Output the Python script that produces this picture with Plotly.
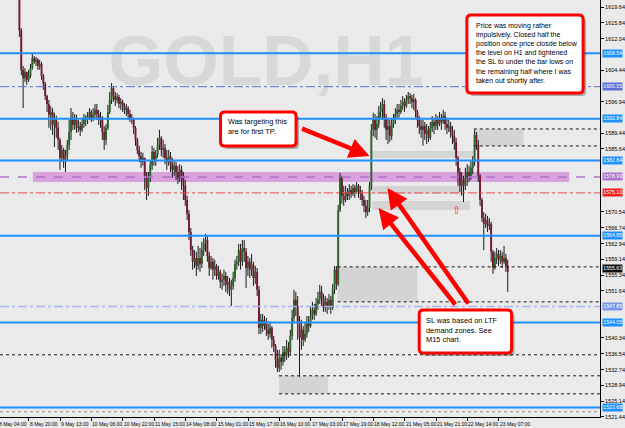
import plotly.graph_objects as go

# ---------------- data (GOLD H1, prices) ----------------
first_open = 1627.5
closes = [
    1628.4, 1630.1, 1627.6, 1629.3, 1631.8, 1630.5, 1628.9, 1631.2, 1629.7, 1626.8,
    1614.1, 1604.6, 1602.6, 1604.1, 1602.2, 1603.1, 1605.0, 1607.4, 1606.5, 1607.0,
    1605.5, 1606.0, 1603.1, 1601.2, 1598.3, 1596.4, 1593.8, 1594.5, 1591.4, 1592.6,
    1590.7, 1587.8, 1583.5, 1585.4, 1583.0, 1584.2, 1586.6, 1589.7, 1593.1, 1591.4,
    1592.6, 1590.7, 1591.1, 1590.2, 1591.6, 1593.1, 1592.6, 1593.5, 1594.5, 1593.1,
    1593.8, 1595.0, 1594.0, 1592.6, 1593.1, 1589.7, 1587.8, 1590.7, 1594.5, 1597.4,
    1600.2, 1598.3, 1597.4, 1598.1, 1596.4, 1596.9, 1595.9, 1595.0, 1595.4, 1594.0,
    1593.1, 1592.6, 1590.7, 1587.8, 1585.4, 1583.9, 1582.5, 1583.5, 1579.2, 1576.3,
    1578.7, 1581.8, 1584.9, 1583.0, 1584.2, 1586.6, 1588.3, 1585.4, 1585.9, 1583.5,
    1582.5, 1583.9, 1582.0, 1580.6, 1581.6, 1580.1, 1578.7, 1580.6, 1579.2, 1576.8,
    1573.4, 1570.1, 1565.7, 1561.4, 1558.6, 1559.5, 1557.6, 1559.5, 1558.1, 1561.4,
    1562.9, 1563.8, 1560.0, 1557.1, 1558.6, 1556.7, 1557.6, 1555.2, 1556.2, 1553.8,
    1554.3, 1555.2, 1553.1, 1553.8, 1551.9, 1552.8, 1554.7, 1558.1, 1558.6, 1561.4,
    1558.6, 1561.9, 1561.0, 1557.1, 1558.6, 1556.7, 1557.9, 1554.7, 1556.2, 1551.9,
    1542.8, 1544.7, 1543.2, 1544.2, 1542.3, 1541.3, 1542.8, 1539.9, 1538.4, 1535.1,
    1533.2, 1535.6, 1534.6, 1537.0, 1536.1, 1538.0, 1537.0, 1540.8, 1545.2, 1549.5,
    1548.0, 1544.2, 1540.4, 1542.3, 1539.9, 1541.3, 1544.2, 1543.2, 1545.6, 1547.1,
    1546.1, 1548.5, 1549.5, 1551.4, 1549.9, 1547.6, 1549.0, 1548.0, 1549.5, 1547.6,
    1551.9, 1556.7, 1553.3, 1571.0, 1578.7, 1574.4, 1573.4, 1575.3, 1574.4, 1575.8,
    1574.9, 1576.3, 1575.3, 1576.8, 1575.8, 1574.9, 1573.4, 1572.0, 1570.5, 1571.5,
    1576.8, 1590.2, 1592.6, 1590.2, 1591.6, 1594.5, 1595.4, 1596.4, 1593.1, 1590.2,
    1591.1, 1588.7, 1591.6, 1592.6, 1594.0, 1595.0, 1594.5, 1595.9, 1596.9, 1595.9,
    1597.4, 1598.3, 1597.8, 1596.9, 1597.4, 1594.5, 1592.6, 1591.1, 1590.2, 1591.1,
    1589.2, 1590.2, 1588.3, 1590.7, 1592.1, 1591.1, 1592.6, 1591.6, 1593.1, 1592.1,
    1593.5, 1591.6, 1590.7, 1591.1, 1589.7, 1588.7, 1587.3, 1583.5, 1580.1, 1576.8,
    1578.2, 1576.8, 1578.7, 1580.1, 1579.2, 1581.1, 1582.5, 1589.0, 1586.6, 1579.2,
    1573.4, 1569.1, 1567.7, 1568.6, 1567.2, 1567.7, 1561.0, 1557.1, 1559.5, 1560.5,
    1559.1, 1560.0, 1558.6, 1559.5, 1557.6, 1556.2,
]
highs = [
    1629.6, 1631.0, 1630.6, 1630.2, 1632.7, 1632.4, 1631.1, 1632.0, 1631.6, 1630.2,
    1627.5, 1614.6, 1605.5, 1605.0, 1604.1, 1604.6, 1606.0, 1608.4, 1607.9, 1607.7,
    1607.4, 1607.0, 1606.5, 1603.6, 1601.7, 1598.6, 1597.4, 1595.9, 1595.4, 1594.3,
    1593.6, 1592.1, 1588.3, 1586.6, 1585.9, 1585.4, 1587.8, 1592.6, 1595.4, 1594.5,
    1594.0, 1593.8, 1592.6, 1592.1, 1593.1, 1594.0, 1593.8, 1594.5, 1595.4, 1595.0,
    1595.4, 1596.4, 1596.4, 1595.0, 1594.5, 1593.5, 1591.1, 1591.6, 1596.2, 1599.3,
    1601.4, 1600.7, 1599.3, 1599.0, 1598.6, 1597.8, 1597.4, 1596.6, 1596.4, 1595.9,
    1595.0, 1594.0, 1593.1, 1591.1, 1588.3, 1586.4, 1584.9, 1584.7, 1583.0, 1580.1,
    1580.1, 1583.0, 1586.4, 1585.9, 1585.4, 1588.3, 1590.2, 1588.7, 1587.8, 1586.8,
    1585.4, 1585.4, 1584.9, 1583.5, 1583.0, 1582.5, 1581.6, 1582.0, 1581.6, 1580.1,
    1578.2, 1574.4, 1571.0, 1566.7, 1562.4, 1561.4, 1561.0, 1562.4, 1561.9, 1563.4,
    1564.3, 1565.3, 1564.8, 1561.0, 1560.0, 1559.5, 1559.1, 1558.1, 1557.6, 1556.7,
    1555.7, 1556.7, 1556.2, 1555.2, 1554.7, 1554.3, 1556.2, 1559.1, 1560.0, 1562.9,
    1562.9, 1563.8, 1563.8, 1561.9, 1560.0, 1559.5, 1560.5, 1558.6, 1557.6, 1557.1,
    1552.8, 1546.1, 1546.1, 1545.6, 1545.2, 1543.7, 1544.2, 1543.2, 1540.8, 1538.9,
    1537.5, 1537.5, 1536.5, 1538.4, 1538.4, 1539.9, 1539.4, 1542.3, 1547.1, 1551.9,
    1551.4, 1550.4, 1545.6, 1544.7, 1543.2, 1544.2, 1545.6, 1545.6, 1548.0, 1549.0,
    1548.5, 1549.9, 1551.4, 1553.1, 1552.8, 1550.9, 1550.4, 1549.9, 1550.9, 1550.4,
    1553.3, 1557.6, 1557.6, 1572.2, 1579.9, 1579.2, 1576.8, 1576.8, 1576.3, 1577.2,
    1576.8, 1577.2, 1577.0, 1577.7, 1577.2, 1576.8, 1575.8, 1574.4, 1573.4, 1573.4,
    1577.7, 1591.6, 1594.3, 1594.0, 1593.5, 1595.9, 1596.9, 1597.8, 1597.4, 1594.0,
    1593.1, 1592.6, 1593.1, 1594.0, 1595.4, 1596.4, 1596.4, 1597.4, 1598.3, 1597.8,
    1598.6, 1599.3, 1599.0, 1598.6, 1598.8, 1597.8, 1595.0, 1593.5, 1592.6, 1592.6,
    1592.1, 1591.6, 1591.1, 1592.1, 1593.5, 1593.1, 1594.0, 1593.5, 1594.5, 1594.0,
    1595.0, 1594.5, 1593.1, 1592.6, 1592.1, 1591.1, 1590.2, 1588.3, 1583.9, 1581.1,
    1580.1, 1579.2, 1581.1, 1582.0, 1581.6, 1583.0, 1583.9, 1590.2, 1589.7, 1587.8,
    1579.6, 1573.9, 1570.5, 1570.1, 1569.6, 1569.1, 1568.2, 1561.4, 1561.0, 1561.9,
    1561.4, 1561.4, 1561.0, 1562.4, 1560.5, 1559.1,
]
lows = [
    1626.9, 1628.0, 1626.8, 1626.9, 1628.8, 1629.6, 1628.0, 1628.4, 1628.8, 1625.6,
    1612.5, 1603.3, 1595.4, 1601.7, 1601.0, 1601.7, 1602.6, 1604.6, 1606.0, 1605.5,
    1604.6, 1604.6, 1602.2, 1599.8, 1597.4, 1594.5, 1590.7, 1590.2, 1589.0, 1586.1,
    1588.3, 1585.4, 1580.6, 1582.5, 1581.1, 1580.1, 1583.0, 1585.4, 1587.8, 1590.2,
    1590.2, 1589.5, 1589.7, 1588.7, 1589.7, 1590.7, 1591.1, 1591.6, 1592.6, 1592.1,
    1592.3, 1593.1, 1592.6, 1591.4, 1590.7, 1587.8, 1585.4, 1586.6, 1590.2, 1594.0,
    1596.4, 1596.9, 1595.9, 1596.6, 1595.4, 1595.0, 1594.5, 1594.0, 1593.5, 1592.6,
    1592.1, 1591.6, 1589.2, 1586.4, 1584.4, 1582.5, 1581.1, 1581.6, 1575.8, 1573.4,
    1574.4, 1577.7, 1580.6, 1581.6, 1581.6, 1583.5, 1585.4, 1583.9, 1583.5, 1582.0,
    1580.6, 1581.6, 1580.1, 1578.7, 1579.2, 1578.2, 1577.2, 1577.7, 1575.8, 1573.4,
    1572.0, 1568.6, 1563.8, 1560.0, 1556.7, 1557.1, 1555.2, 1556.7, 1556.2, 1557.1,
    1560.0, 1561.0, 1558.6, 1555.2, 1556.7, 1554.3, 1555.2, 1554.3, 1554.3, 1552.3,
    1551.9, 1552.8, 1551.4, 1550.9, 1550.4, 1548.0, 1551.9, 1553.8, 1556.7, 1557.6,
    1556.7, 1557.6, 1558.6, 1552.3, 1555.2, 1554.7, 1555.2, 1552.8, 1553.3, 1550.4,
    1541.3, 1541.3, 1541.8, 1542.3, 1540.8, 1539.9, 1540.4, 1538.0, 1537.0, 1533.2,
    1532.2, 1532.2, 1532.7, 1533.7, 1534.6, 1535.1, 1535.6, 1536.1, 1539.9, 1544.2,
    1545.6, 1539.9, 1531.0, 1537.5, 1538.4, 1539.4, 1540.4, 1541.8, 1542.8, 1544.7,
    1544.7, 1545.6, 1547.1, 1548.5, 1548.0, 1546.6, 1546.6, 1546.1, 1547.1, 1546.1,
    1547.1, 1550.9, 1551.9, 1552.8, 1570.5, 1572.5, 1572.0, 1572.9, 1573.4, 1573.4,
    1573.9, 1574.4, 1573.9, 1574.9, 1573.9, 1573.4, 1572.0, 1570.5, 1569.1, 1569.6,
    1570.5, 1575.8, 1588.7, 1588.3, 1587.8, 1590.7, 1593.1, 1592.6, 1590.7, 1587.8,
    1586.8, 1587.3, 1587.8, 1590.7, 1591.6, 1593.1, 1593.1, 1594.0, 1595.0, 1594.5,
    1595.4, 1596.4, 1596.4, 1595.4, 1595.0, 1593.1, 1590.7, 1589.2, 1588.3, 1586.4,
    1587.8, 1586.8, 1587.3, 1587.8, 1589.7, 1589.2, 1590.2, 1590.2, 1591.1, 1590.2,
    1591.6, 1590.2, 1589.2, 1589.7, 1588.3, 1586.8, 1585.4, 1581.6, 1576.8, 1575.3,
    1574.4, 1572.9, 1575.8, 1576.8, 1577.7, 1578.2, 1579.6, 1581.6, 1585.4, 1577.7,
    1572.0, 1568.2, 1561.4, 1566.7, 1565.7, 1566.2, 1558.6, 1555.7, 1556.7, 1558.1,
    1557.6, 1558.1, 1557.1, 1558.1, 1556.2, 1551.4,
]

price_ticks = ["1619.64", "1615.84", "1612.04", "1608.24", "1604.44", "1600.64", "1596.94",
               "1593.14", "1589.44", "1585.64", "1581.84", "1578.04", "1574.34", "1570.54",
               "1566.74", "1562.94", "1559.14", "1555.34", "1551.64", "1547.84", "1544.04",
               "1540.34", "1536.54", "1532.74", "1528.94", "1525.14", "1521.44"]

time_labels = ["8 May 04:00", "8 May 20:00", "9 May 13:00", "10 May 06:00", "10 May 22:00",
               "11 May 15:00", "14 May 08:00", "15 May 01:00", "15 May 17:00", "16 May 10:00",
               "17 May 03:00", "17 May 19:00", "18 May 12:00", "21 May 05:00", "21 May 21:00",
               "22 May 14:00", "23 May 07:00"]

# horizontal levels drawn across the whole chart: price, colour, width, dash
levels = [
    (1608.54, "#1E90FF", 2, "solid"),
    (1592.84, "#1E90FF", 2, "solid"),
    (1582.84, "#1E90FF", 2, "solid"),
    (1564.85, "#1E90FF", 2, "solid"),
    (1544.05, "#1E90FF", 2, "solid"),
    (1523.68, "#1E90FF", 2, "solid"),
    (1600.55, "#5E70D8", 1, "dashdot"),
    (1578.93, "#B273CC", 1.5, "dash"),
    (1575.10, "#E84A4A", 1, "dashdot"),
    (1547.85, "#A9B6EA", 1.5, "dashdot"),
    (1536.30, "#1A1A1A", 1, "dot"),
    (1522.65, "#8A8A8A", 1, "dot"),
]
# dotted rays: price, starting bar
rays = [(1590.42, 256.6), (1586.35, 256.6), (1557.37, 182.7), (1548.99, 182.7),
        (1531.27, 150.9), (1526.96, 150.9)]
# zones: start bar, end bar, top price, bottom price
gray_zones = [(201.6, 257.1, 1585.16, 1583.48), (201.1, 251.8, 1576.77, 1574.86),
              (201.6, 254.4, 1573.18, 1571.02), (256.6, 283.6, 1590.42, 1586.35),
              (182.7, 225.9, 1557.37, 1548.99), (150.9, 177.4, 1531.27, 1526.96)]
purple_zone = (17.3, 308.4, 1580.13, 1577.73)

# price tags on the axis: price, text, background
tags = [
    (1608.54, "1608.54", "#1E90FF"), (1600.55, "1600.55", "#5E70D8"),
    (1592.84, "1592.84", "#1E90FF"), (1582.84, "1582.84", "#1E90FF"),
    (1578.93, "1578.93", "#B273CC"), (1575.10, "1575.10", "#F02020"),
    (1564.85, "1564.85", "#1E90FF"), (1556.90, "1555.63", "#101010"),
    (1547.85, "1547.85", "#7E96E6"), (1544.05, "1544.05", "#1E90FF"),
    (1523.68, "1523.68", "#1E90FF"),
]

# ---------------- geometry ----------------
W, H = 625, 428
MR, MB = 21, 11
PW, PH = W - MR, H - MB
X_RANGE = [-0.54, 325.07]
Y_RANGE = [1521.40, 1621.32]
PX_PER_PRICE = PH / (Y_RANGE[1] - Y_RANGE[0])
BG = "#EAEAEA"


def px(x):
    return x / PW


def py(y):
    return 1 - y / PH


def bar_to_paper(b):
    return (b - X_RANGE[0]) / (X_RANGE[1] - X_RANGE[0])


def rrect(x0, y0, x1, y1, r=4):
    rx, ry = r / PW, r / PH
    X0, X1, Y0, Y1 = px(x0), px(x1), py(y0), py(y1)
    return (f"M{X0+rx},{Y0} L{X1-rx},{Y0} Q{X1},{Y0} {X1},{Y0-ry} L{X1},{Y1+ry} "
            f"Q{X1},{Y1} {X1-rx},{Y1} L{X0+rx},{Y1} Q{X0},{Y1} {X0},{Y1+ry} "
            f"L{X0},{Y0-ry} Q{X0},{Y0} {X0+rx},{Y0} Z")


fig = go.Figure()

# watermark (first trace, so everything else is drawn over it)
fig.add_trace(go.Scatter(x=[143.9], y=[1605.3], mode="text", text=["GOLD,H1"],
                         textfont=dict(size=71, color="#D8D8D8", weight="bold",
                                       family="Liberation Sans Narrow, Liberation Sans, Arial"),
                         textposition="middle center", hoverinfo="skip", showlegend=False))

# candles
opens = [first_open] + closes[:-1]
wx, wy, ux, uy, dx, dy = [], [], [], [], [], []
for i, (o, h, l, c) in enumerate(zip(opens, highs, lows, closes)):
    h = max(h, o, c)
    l = min(l, o, c)
    wx += [i, i, None]
    wy += [l, h, None]
    top, bot = max(o, c), min(o, c)
    if top - bot < 0.25:
        top, bot = top + 0.12, bot - 0.12
    if c >= o:
        ux += [i, i, None]
        uy += [bot, top, None]
    else:
        dx += [i, i, None]
        dy += [bot, top, None]

fig.add_trace(go.Scatter(x=wx, y=wy, mode="lines", line=dict(color="#1C1C1C", width=1),
                         hoverinfo="skip", showlegend=False))
fig.add_trace(go.Scatter(x=ux, y=uy, mode="lines", line=dict(color="#2A6626", width=1.9),
                         hoverinfo="skip", showlegend=False))
fig.add_trace(go.Scatter(x=dx, y=dy, mode="lines", line=dict(color="#741A30", width=1.9),
                         hoverinfo="skip", showlegend=False))

shapes = []
x0, x1, t, b = purple_zone
shapes.append(dict(type="rect", xref="x", yref="y", x0=x0, x1=x1, y0=b, y1=t,
                   fillcolor="#D9A2DD", line=dict(width=0), layer="below"))
for x0, x1, t, b in gray_zones:
    shapes.append(dict(type="rect", xref="x", yref="y", x0=x0, x1=x1, y0=b, y1=t,
                       fillcolor="#D4D4D4", line=dict(width=0), layer="below"))
for p, col, w, dash in levels:
    shapes.append(dict(type="line", xref="paper", yref="y", x0=0, x1=1, y0=p, y1=p,
                       line=dict(color=col, width=w, dash=dash), layer="above"))
for p, start in rays:
    shapes.append(dict(type="line", xref="x", yref="y", x0=start, x1=X_RANGE[1], y0=p, y1=p,
                       line=dict(color="#1A1A1A", width=1, dash="dot"), layer="above"))

# callout boxes (shadow + rounded red frame)
boxes = [(470, 15, 587, 93), (222, 112, 298, 146), (422, 310, 515, 353)]
for (a, b_, c, d) in boxes:
    shapes.append(dict(type="path", xref="paper", yref="paper", path=rrect(a + 3, b_ + 3, c + 3, d + 3),
                       fillcolor="rgba(0,0,0,0.28)", line=dict(width=0), layer="above"))
    shapes.append(dict(type="path", xref="paper", yref="paper", path=rrect(a, b_, c, d),
                       fillcolor="white", line=dict(color="#FF0000", width=3), layer="above"))

ann = []
TXT = dict(family="Liberation Sans, Arial", size=7.0, color="black")
ann.append(dict(xref="paper", yref="paper", x=px(477), y=py(20), xanchor="left", yanchor="top",
                align="left", showarrow=False, font=TXT,
                text="Price was moving rather<br>impulsively. Closed half the<br>position once price closde below"
                     "<br>the level on H1 and tightened<br>the SL to under the bar lows on"
                     "<br>the remaining half where I was<br>taken out shortly after."))
TXT2 = dict(family="Liberation Sans, Arial", size=7.4, color="black")
ann.append(dict(xref="paper", yref="paper", x=px(228), y=py(115), xanchor="left", yanchor="top",
                align="left", showarrow=False, font=TXT2,
                text="Was targeting this<br>are for first TP."))
ann.append(dict(xref="paper", yref="paper", x=px(427), y=py(314), xanchor="left", yanchor="top",
                align="left", showarrow=False, font=TXT2,
                text="SL was based on LTF<br>demand zones. See<br>M15 chart."))

# red arrows: tip (px), tail offset (px)
arrows = [((372, 156), (-69, -28)), ((390, 188), (82, 117)), ((381, 208), (78, 98))]
for (tx, ty), (ax, ay) in arrows:
    ann.append(dict(xref="paper", yref="paper", x=px(tx), y=py(ty), ax=ax, ay=ay, text="",
                    showarrow=True, arrowhead=2, arrowsize=0.9, arrowwidth=4.5,
                    arrowcolor="#FF0000"))
ann.append(dict(xref="paper", yref="paper", x=px(466), y=py(210), text="⇧", showarrow=False,
                font=dict(size=11, color="#FF3030", family="DejaVu Sans")))

# time labels (left aligned at their tick, like the terminal)
label_bars = [15.1 + 17 * (k - 1) for k in range(len(time_labels))]
for lb, txt in zip(label_bars, time_labels):
    ann.append(dict(xref="paper", yref="paper", x=bar_to_paper(lb) - 1 / PW, y=-1.5 / PH,
                    xanchor="left", yanchor="top", text=txt, showarrow=False,
                    font=dict(size=5, color="black", family="Liberation Sans, Arial")))

# price tags
for p, txt, bgc in tags:
    ann.append(dict(xref="paper", yref="y", x=1 + 2 / PW, y=p, xanchor="left", yanchor="middle",
                    text=txt, showarrow=False, bgcolor=bgc, borderpad=0.3,
                    font=dict(size=5.2, color="white", family="Liberation Sans, Arial")))

# regular axis labels that are not hidden behind a tag
tag_prices = [p for p, _, _ in tags]
shown_ticks = [t for t in price_ticks
               if all(abs(float(t) - p) * PX_PER_PRICE > 5 for p in tag_prices)]

fig.update_layout(
    width=W, height=H, margin=dict(l=0, r=MR, t=0, b=MB, pad=0),
    paper_bgcolor=BG, plot_bgcolor=BG, showlegend=False,
    shapes=shapes, annotations=ann,
    xaxis=dict(range=X_RANGE, showgrid=False, zeroline=False, showline=True, linecolor="black",
               linewidth=1, ticks="outside", ticklen=3, tickcolor="black",
               tickvals=label_bars, showticklabels=False, fixedrange=True),
    yaxis=dict(range=Y_RANGE, side="right", showgrid=False, zeroline=False, showline=True,
               linecolor="black", linewidth=1, ticks="outside", ticklen=3, tickcolor="black",
               tickvals=[float(v) for v in shown_ticks], ticktext=shown_ticks,
               tickfont=dict(size=5.5, color="black", family="Liberation Sans, Arial"),
               fixedrange=True),
)

fig.write_html("out.html")
